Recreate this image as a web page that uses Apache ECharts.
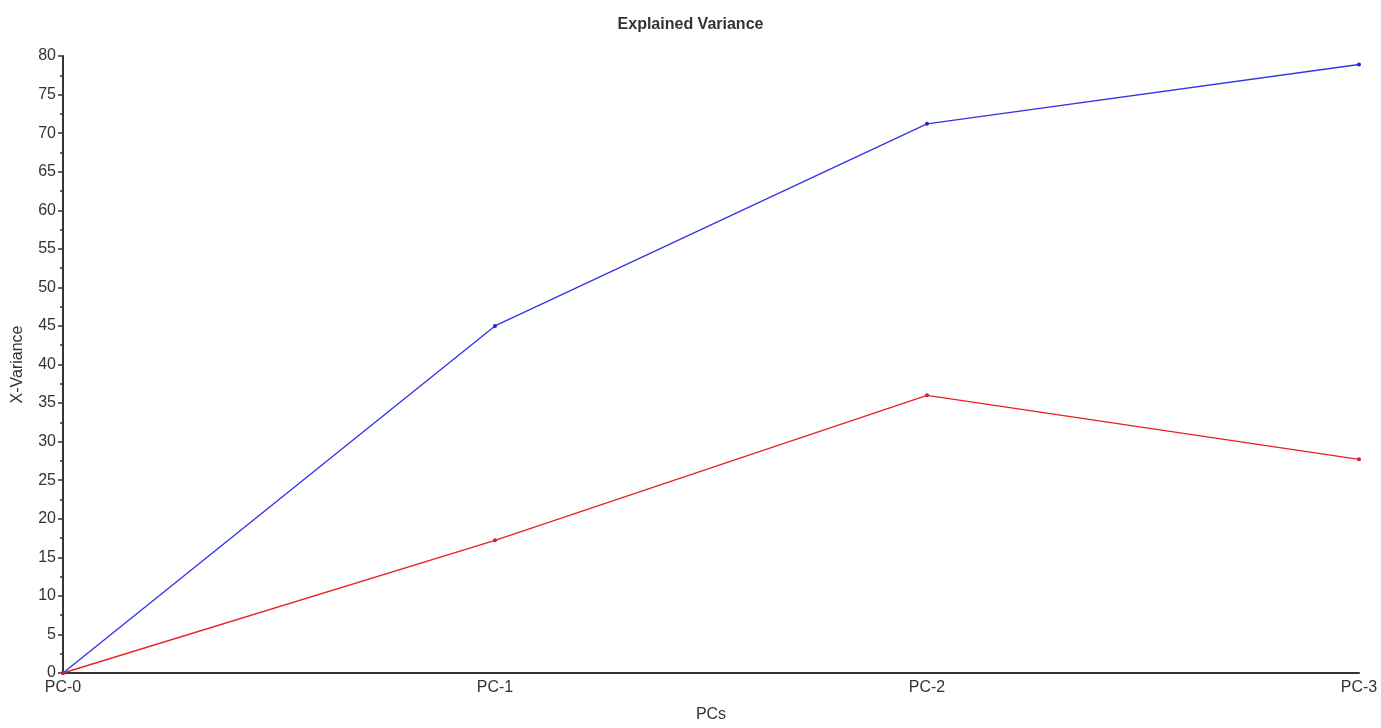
<!DOCTYPE html>
<html>
<head>
<meta charset="utf-8">
<script src="https://cdn.jsdelivr.net/npm/echarts@6/dist/echarts.min.js"></script>
<style>html,body{margin:0;padding:0;background:#fff;}#c{width:1381px;height:728px;}</style>
</head>
<body>
<div id="c"></div>
<script>
const categories = ['PC-0', 'PC-1', 'PC-2', 'PC-3'];
const blueValues = [0, 45.0, 71.2, 78.9];
const redValues = [0, 17.2, 36.0, 27.7];
const yTicks = { min: 0, max: 80, interval: 5 };

const FONT = 'Liberation Sans, Arial, sans-serif';
const chart = echarts.init(document.getElementById('c'));
chart.setOption({
  animation: false,
  backgroundColor: '#fff',
  title: {
    text: 'Explained Variance', left: 'center', top: 12,
    textStyle: { fontFamily: FONT, fontSize: 16, fontWeight: 'bold', color: '#333' }
  },
  grid: { left: 63, right: 22, top: 56, bottom: 51, containLabel: false },
  xAxis: {
    type: 'category', data: categories, boundaryGap: false,
    name: 'PCs', nameLocation: 'middle', nameGap: 34,
    nameTextStyle: { fontFamily: FONT, fontSize: 16, color: '#333' },
    axisLine: { lineStyle: { color: '#333', width: 2 } },
    axisTick: { show: false },
    axisLabel: { fontFamily: FONT, fontSize: 16, color: '#333', margin: 7 },
    splitLine: { show: false }
  },
  yAxis: {
    type: 'value', min: yTicks.min, max: yTicks.max, interval: yTicks.interval,
    name: 'X-Variance', nameLocation: 'middle', nameGap: 37, nameRotate: 90,
    nameTextStyle: { fontFamily: FONT, fontSize: 16, color: '#333' },
    axisLine: { show: true, lineStyle: { color: '#333', width: 2 } },
    axisTick: { show: true, length: 5, lineStyle: { color: '#333', width: 1.5 } },
    minorTick: { show: true, splitNumber: 2, length: 3, lineStyle: { color: '#333', width: 1.5 } },
    axisLabel: { fontFamily: FONT, fontSize: 16, color: '#333', margin: 7 },
    splitLine: { show: false }
  },
  series: [
    {
      type: 'line', data: blueValues, symbol: 'circle', symbolSize: 4,
      lineStyle: { color: '#3535e8', width: 1.4 }, itemStyle: { color: '#2222cc' }
    },
    {
      type: 'line', data: redValues, symbol: 'circle', symbolSize: 4,
      lineStyle: { color: '#e82222', width: 1.4 }, itemStyle: { color: '#cc2233' }
    }
  ]
});
</script>
</body>
</html>
